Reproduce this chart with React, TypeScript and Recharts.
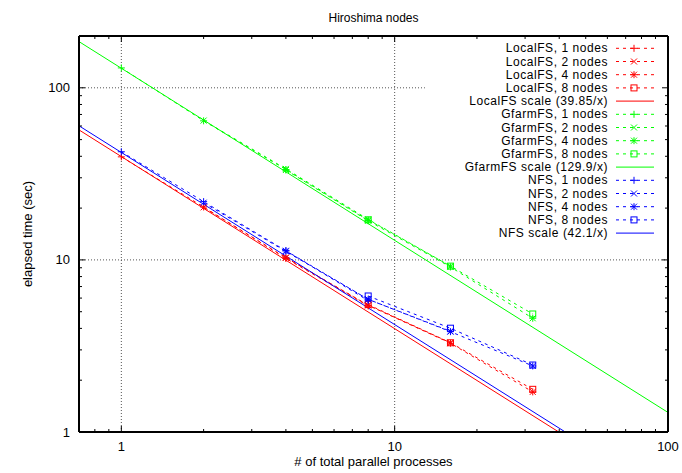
import { LineChart, Line, XAxis, YAxis, ReferenceLine, Legend } from 'recharts'

const WIDTH = 682
const HEIGHT = 473
const PLOT = { left: 79, top: 36, right: 668, bottom: 432 }
const FONT = '"Liberation Sans", Arial, Helvetica, sans-serif'
const FONT_SIZE = 13

const X_TICKS = [0.8, 0.9, 1, 2, 3, 4, 5, 6, 7, 8, 9, 10, 20, 30, 40, 50, 60, 70, 80, 90, 100]
const Y_TICKS = [1, 2, 3, 4, 5, 6, 7, 8, 9, 10, 20, 30, 40, 50, 60, 70, 80, 90, 100]
const MAJOR_TICKS = [1, 10, 100]

// processes run for each node count
const PROCS_1N = [1, 2, 4, 8]
const PROCS_2N = [2, 4, 8, 16]
const PROCS_4N = [4, 8, 16, 32]
const PROCS_8N = [8, 16, 32]

// elapsed time (sec)
const LOCAL_1N = [39.7, 20.3, 10.2, 5.4]
const LOCAL_2N = [20.2, 10.3, 5.45, 3.3]
const LOCAL_4N = [10.3, 5.45, 3.28, 1.71]
const LOCAL_8N = [5.5, 3.3, 1.77]

const GFARM_1N = [130.5, 64.3, 33.5, 17.0]
const GFARM_2N = [64.5, 33.8, 17.2, 9.2]
const GFARM_4N = [33.3, 16.9, 9.1, 4.58]
const GFARM_8N = [17.1, 9.2, 4.85]

const NFS_1N = [42.5, 21.8, 11.3, 5.8]
const NFS_2N = [21.5, 11.2, 5.9, 3.85]
const NFS_4N = [11.3, 5.9, 3.83, 2.42]
const NFS_8N = [6.17, 4.01, 2.45]

// fitted c/x lines, end points inside the plot
const LOCAL_SCALE_X = [0.7, 39.85]
const LOCAL_SCALE_Y = [56.93, 1]
const GFARM_SCALE_X = [0.7, 100]
const GFARM_SCALE_Y = [185.57, 1.299]
const NFS_SCALE_X = [0.7, 42.1]
const NFS_SCALE_Y = [60.14, 1]

const RED = '#ff0000'
const GREEN = '#00ff00'
const BLUE = '#0000ff'

type Shape = 'plus' | 'cross' | 'star' | 'square' | 'none'

interface Series {
  name: string
  color: string
  shape: Shape
  dashed: boolean
  data: { x: number; y: number }[]
}

const zip = (xs: number[], ys: number[]) => xs.map((x, i) => ({ x, y: ys[i] }))

const SERIES: Series[] = [
  { name: 'LocalFS, 1 nodes', color: RED, shape: 'plus', dashed: true, data: zip(PROCS_1N, LOCAL_1N) },
  { name: 'LocalFS, 2 nodes', color: RED, shape: 'cross', dashed: true, data: zip(PROCS_2N, LOCAL_2N) },
  { name: 'LocalFS, 4 nodes', color: RED, shape: 'star', dashed: true, data: zip(PROCS_4N, LOCAL_4N) },
  { name: 'LocalFS, 8 nodes', color: RED, shape: 'square', dashed: true, data: zip(PROCS_8N, LOCAL_8N) },
  { name: 'LocalFS scale (39.85/x)', color: RED, shape: 'none', dashed: false, data: zip(LOCAL_SCALE_X, LOCAL_SCALE_Y) },
  { name: 'GfarmFS, 1 nodes', color: GREEN, shape: 'plus', dashed: true, data: zip(PROCS_1N, GFARM_1N) },
  { name: 'GfarmFS, 2 nodes', color: GREEN, shape: 'cross', dashed: true, data: zip(PROCS_2N, GFARM_2N) },
  { name: 'GfarmFS, 4 nodes', color: GREEN, shape: 'star', dashed: true, data: zip(PROCS_4N, GFARM_4N) },
  { name: 'GfarmFS, 8 nodes', color: GREEN, shape: 'square', dashed: true, data: zip(PROCS_8N, GFARM_8N) },
  { name: 'GfarmFS scale (129.9/x)', color: GREEN, shape: 'none', dashed: false, data: zip(GFARM_SCALE_X, GFARM_SCALE_Y) },
  { name: 'NFS, 1 nodes', color: BLUE, shape: 'plus', dashed: true, data: zip(PROCS_1N, NFS_1N) },
  { name: 'NFS, 2 nodes', color: BLUE, shape: 'cross', dashed: true, data: zip(PROCS_2N, NFS_2N) },
  { name: 'NFS, 4 nodes', color: BLUE, shape: 'star', dashed: true, data: zip(PROCS_4N, NFS_4N) },
  { name: 'NFS, 8 nodes', color: BLUE, shape: 'square', dashed: true, data: zip(PROCS_8N, NFS_8N) },
  { name: 'NFS scale (42.1/x)', color: BLUE, shape: 'none', dashed: false, data: zip(NFS_SCALE_X, NFS_SCALE_Y) },
]

const DASH = '3 4'

function Marker({ cx, cy, shape, color }: { cx?: number; cy?: number; shape: Shape; color: string }) {
  if (cx == null || cy == null || shape === 'none') return null
  const r = 3.5
  const plus = <path d={`M${cx - r},${cy}H${cx + r}M${cx},${cy - r}V${cy + r}`} />
  const cross = <path d={`M${cx - r + 0.5},${cy - r + 0.5}L${cx + r - 0.5},${cy + r - 0.5}M${cx - r + 0.5},${cy + r - 0.5}L${cx + r - 0.5},${cy - r + 0.5}`} />
  return (
    <g stroke={color} strokeWidth={1} fill="none">
      {shape === 'plus' && plus}
      {shape === 'cross' && cross}
      {shape === 'star' && <>{plus}{cross}</>}
      {shape === 'square' && <rect x={cx - 3} y={cy - 3} width={6} height={6} />}
    </g>
  )
}

function XTick(props: any) {
  const { x, y, payload } = props
  const v = payload.value
  const major = MAJOR_TICKS.includes(v)
  const len = major ? 6 : 3
  return (
    <g>
      <line x1={x} y1={y} x2={x} y2={y - len} stroke="#000" />
      <line x1={x} y1={PLOT.top} x2={x} y2={PLOT.top + len} stroke="#000" />
      {major && (
        <text x={x} y={y + 19} textAnchor="middle" fontSize={FONT_SIZE} fontFamily={FONT} fill="#000">
          {v}
        </text>
      )}
    </g>
  )
}

function YTick(props: any) {
  const { x, y, payload } = props
  const v = payload.value
  const major = MAJOR_TICKS.includes(v)
  const len = major ? 6 : 3
  return (
    <g>
      <line x1={x} y1={y} x2={x + len} y2={y} stroke="#000" />
      <line x1={PLOT.right} y1={y} x2={PLOT.right - len} y2={y} stroke="#000" />
      {major && (
        <text x={x - 9} y={y + 4.5} textAnchor="end" fontSize={FONT_SIZE} fontFamily={FONT} fill="#000">
          {v}
        </text>
      )}
    </g>
  )
}

const LEGEND_LEFT = 400
const LEGEND_TOP = 38

function KeyBox() {
  const rowH = 13.2
  return (
    <svg width={270} height={205} style={{ display: 'block' }}>
      {SERIES.map((s, i) => {
        const cy = 10.3 + i * rowH
        return (
          <g key={s.name}>
            <text x={208} y={cy + 4} textAnchor="end" fontSize={12} letterSpacing={0.55} fontFamily={FONT} fill="#000">
              {s.name}
            </text>
            <line x1={216} y1={cy} x2={254} y2={cy} stroke={s.color} strokeDasharray={s.dashed ? DASH : undefined} />
            <Marker cx={234} cy={cy} shape={s.shape} color={s.color} />
          </g>
        )
      })}
    </svg>
  )
}

const gridStyle = { stroke: '#555', strokeDasharray: '1 2', strokeWidth: 1 }
const frameStyle = { stroke: '#000', strokeWidth: 2 }

export default function App() {
  return (
    <div style={{ position: 'absolute', left: 0, top: 0, background: '#fff' }}>
      <LineChart width={WIDTH} height={HEIGHT} margin={{ top: PLOT.top, right: WIDTH - PLOT.right, bottom: 0, left: 0 }}>
        <XAxis
          dataKey="x"
          type="number"
          scale="log"
          domain={[0.7, 100]}
          allowDataOverflow
          ticks={X_TICKS}
          interval={0}
          tickSize={0}
          tickMargin={0}
          tickLine={false}
          axisLine={false}
          tick={<XTick />}
          height={HEIGHT - PLOT.bottom}
          label={() => (
            <text x={(PLOT.left + PLOT.right) / 2} y={466} textAnchor="middle" fontSize={FONT_SIZE} fontFamily={FONT} fill="#000">
              # of total parallel processes
            </text>
          )}
        />
        <YAxis
          type="number"
          scale="log"
          domain={[1, 200]}
          allowDataOverflow
          ticks={Y_TICKS}
          interval={0}
          tickSize={0}
          tickMargin={0}
          tickLine={false}
          axisLine={false}
          tick={<YTick />}
          width={PLOT.left}
          label={() => (
            <text
              x={32}
              y={(PLOT.top + PLOT.bottom) / 2}
              textAnchor="middle"
              fontSize={FONT_SIZE}
              fontFamily={FONT}
              fill="#000"
              transform={`rotate(-90 32 ${(PLOT.top + PLOT.bottom) / 2})`}
            >
              elapsed time (sec)
            </text>
          )}
        />
        <ReferenceLine x={1} {...gridStyle} />
        <ReferenceLine x={10} {...gridStyle} />
        <ReferenceLine y={10} {...gridStyle} />
        <ReferenceLine segment={[{ x: 0.7, y: 100 }, { x: 12.9, y: 100 }]} {...gridStyle} />
        {SERIES.map((s) => (
          <Line
            key={s.name}
            name={s.name}
            data={s.data}
            dataKey="y"
            type="linear"
            stroke={s.color}
            strokeWidth={1}
            strokeDasharray={s.dashed ? DASH : undefined}
            dot={(p: any) => <Marker key={`${s.name}-${p.index}`} cx={p.cx} cy={p.cy} shape={s.shape} color={s.color} />}
            activeDot={false}
            isAnimationActive={false}
          />
        ))}
        <ReferenceLine x={0.7} {...frameStyle} />
        <ReferenceLine x={100} {...frameStyle} />
        <ReferenceLine y={1} {...frameStyle} />
        <ReferenceLine y={200} {...frameStyle} />
        <Legend
          layout="vertical"
          align="center"
          verticalAlign="middle"
          wrapperStyle={{ left: LEGEND_LEFT, top: LEGEND_TOP, width: 270 }}
          content={() => <KeyBox />}
        />
        <text x={(PLOT.left + PLOT.right) / 2} y={22} textAnchor="middle" fontSize={12} fontFamily={FONT} fill="#000">
          Hiroshima nodes
        </text>
      </LineChart>
    </div>
  )
}
